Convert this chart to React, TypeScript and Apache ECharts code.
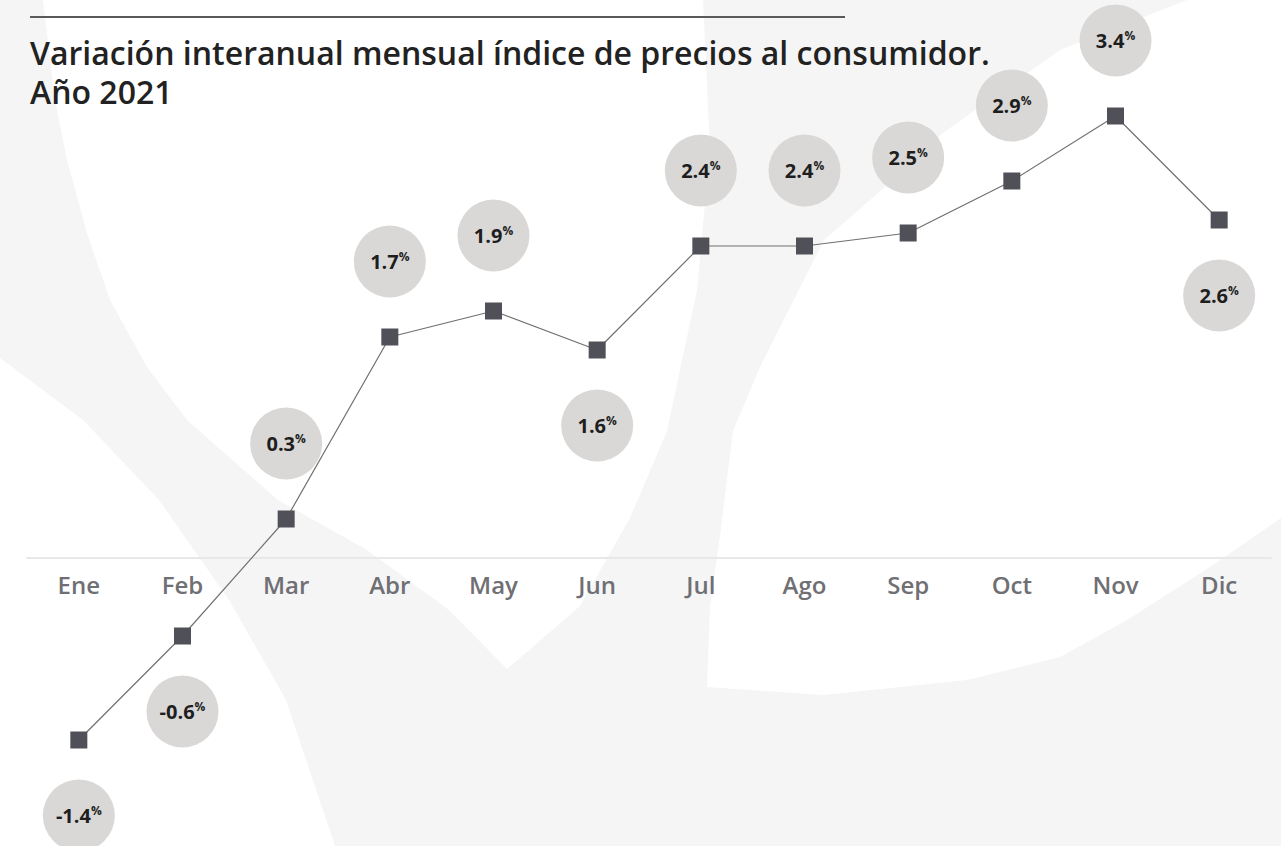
import React, { useEffect, useRef } from 'react';
import * as echarts from 'echarts';

// ---- data ----
const months = ['Ene', 'Feb', 'Mar', 'Abr', 'May', 'Jun', 'Jul', 'Ago', 'Sep', 'Oct', 'Nov', 'Dic'];
const values = [-1.4, -0.6, 0.3, 1.7, 1.9, 1.6, 2.4, 2.4, 2.5, 2.9, 3.4, 2.6];
const labelSides = ['bottom', 'bottom', 'top', 'top', 'top', 'bottom', 'top', 'top', 'top', 'top', 'top', 'bottom'];
const titleText = 'Variación interanual mensual índice de precios al consumidor.\nAño 2021';

// ---- decorative background outlines (white cut-outs over light gray) ----
const bgWhiteV = [
  [43, 0], [703, 0], [710, 150], [697, 290], [667, 431], [630, 518], [580, 606], [507, 669],
  [449, 610], [367, 550], [278, 500], [187, 420], [147, 367], [110, 300], [87, 233], [67, 160], [55, 100],
];
const bgWhiteRight = [
  [1187, 0], [1281, 0], [1281, 518], [1210, 567], [1127, 620], [1060, 657], [967, 680], [824, 695],
  [707, 687], [710, 606], [720, 536], [733, 431], [760, 367], [824, 240], [885, 187], [943, 133], [1060, 50],
];
const bgWhiteLeft = [[0, 358], [83, 420], [159, 500], [229, 600], [286, 700], [335, 846], [0, 846]];

export default function App() {
  const ref = useRef<HTMLDivElement>(null);

  useEffect(() => {
    document.body.style.margin = '0';
    if (!ref.current) return;
    const chart = echarts.init(ref.current, undefined, { renderer: 'svg' });
    const font = "'Open Sans', 'Noto Sans', sans-serif";
    chart.setOption({
      animation: false,
      backgroundColor: '#ffffff',
      title: {
        text: titleText,
        left: 30,
        top: 33,
        padding: 0,
        textStyle: {
          fontFamily: font,
          fontSize: 32,
          fontWeight: 600,
          color: '#222222',
          lineHeight: 39,
        },
      },
      graphic: [
        { type: 'rect', z: -10, silent: true, shape: { x: 0, y: 0, width: 1281, height: 846 }, style: { fill: '#f5f5f5' } },
        { type: 'polygon', z: -9, silent: true, shape: { points: bgWhiteV }, style: { fill: '#ffffff' } },
        { type: 'polygon', z: -9, silent: true, shape: { points: bgWhiteRight }, style: { fill: '#ffffff' } },
        { type: 'polygon', z: -9, silent: true, shape: { points: bgWhiteLeft }, style: { fill: '#ffffff' } },
        { type: 'line', z: 1, silent: true, shape: { x1: 30, y1: 17, x2: 845, y2: 17 }, style: { stroke: '#5a5a5a', lineWidth: 2 } },
      ],
      grid: { left: 27, right: 10, top: 38, bottom: 288, containLabel: false, outerBoundsMode: 'none' },
      xAxis: {
        type: 'category',
        data: months,
        boundaryGap: true,
        axisLine: { show: true, lineStyle: { color: '#e8e8e8', width: 2 } },
        axisTick: { show: false },
        splitLine: { show: false },
        axisLabel: {
          color: '#6f6f74',
          fontFamily: font,
          fontSize: 24,
          fontWeight: 600,
          margin: 14,
        },
      },
      yAxis: {
        type: 'value',
        min: 0,
        max: 4,
        show: false,
        splitLine: { show: false },
      },
      series: [
        {
          type: 'line',
          z: 3,
          clip: false,
          data: values.map((v, i) => ({ value: v, label: { position: labelSides[i] } })),
          symbol: 'rect',
          symbolSize: 17,
          itemStyle: { color: '#505058' },
          lineStyle: { color: '#707070', width: 1.2 },
          emphasis: { disabled: true },
          label: {
            show: true,
            distance: 31,
            width: 72,
            height: 72,
            borderRadius: 36,
            backgroundColor: '#d9d8d6',
            formatter: (p: any) => `{v|${values[p.dataIndex].toFixed(1)}}{p|%}`,
            rich: {
              v: { fontFamily: font, fontSize: 20, fontWeight: 'bold', color: '#1e1e1e', lineHeight: 72, align: 'center' },
              p: { fontFamily: font, fontSize: 12, fontWeight: 'bold', color: '#1e1e1e', lineHeight: 72, padding: [0, 0, 10, 0], align: 'center' },
            },
          },
        },
      ],
    });
    return () => chart.dispose();
  }, []);

  return <div ref={ref} style={{ width: 1281, height: 846 }} />;
}
